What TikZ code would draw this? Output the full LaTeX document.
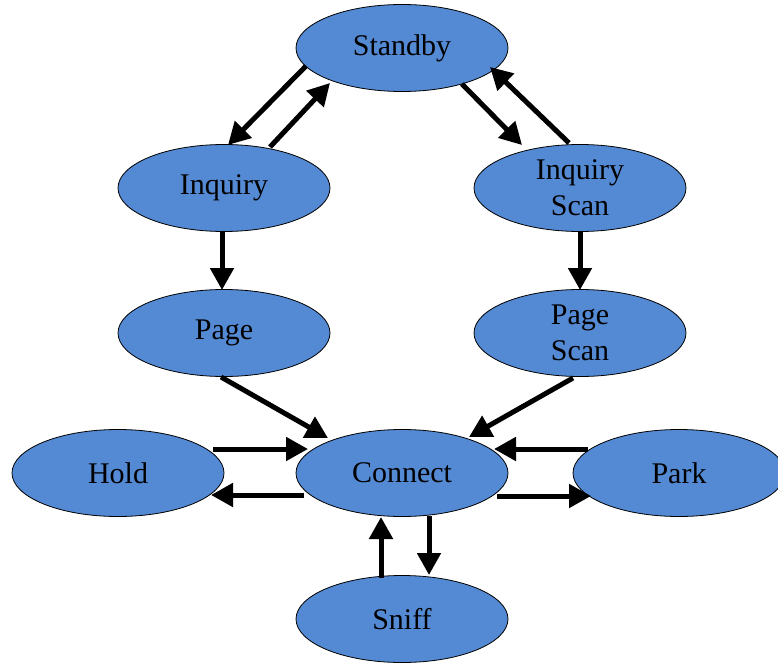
\documentclass[tikz,border=0pt]{standalone}
\usepackage{fontspec}
\setmainfont{Liberation Serif}
\usetikzlibrary{shapes.geometric,arrows.meta,calc}
\definecolor{stblue}{RGB}{84,138,212}
\tikzset{
  ell/.style={ellipse,draw=black,line width=0.8pt,fill=stblue,minimum width=212pt,minimum height=87pt,inner sep=0pt},
  lbl/.style={align=center,inner sep=0pt,font=\fontsize{30}{36}\selectfont},
  arr/.style={line width=5pt,-{Triangle[length=22pt,width=23pt]}}
}
\begin{document}
\begin{tikzpicture}[x=1pt,y=-1pt]
\useasboundingbox (0,0) rectangle (778,663);
\node[ell] (standby) at (402,48) {};
\node[ell] (inq) at (224,188) {};
\node[ell] (iscan) at (580,188) {};
\node[ell] (page) at (224,333) {};
\node[ell] (pscan) at (580,333) {};
\node[ell] (hold) at (118,473) {};
\node[ell] (conn) at (402,473) {};
\node[ell] (park) at (679,473) {};
\node[ell] (sniff) at (402,619) {};
\node[lbl] (standby-t) at (standby) {Standby};
\node[lbl] (inq-t) at (inq) {Inquiry};
\node[lbl] (iscan-t) at (iscan) {Inquiry\\Scan};
\node[lbl] (page-t) at (page) {Page};
\node[lbl] (pscan-t) at (pscan) {Page\\Scan};
\node[lbl] (hold-t) at (hold) {Hold};
\node[lbl] (conn-t) at (conn) {Connect};
\node[lbl] (park-t) at (park) {Park};
\node[lbl] (sniff-t) at (sniff) {Sniff};
% connector end points
\coordinate (s1) at ($(standby)+(-96,18)$);
\coordinate (i1) at ($(inq)+(4,-43)$);
\coordinate (i2) at ($(inq)+(46,-41)$);
\coordinate (s2) at ($(standby)+(-72,35)$);
\coordinate (s3) at ($(standby)+(60,36)$);
\coordinate (c3) at ($(iscan)+(-58,-43)$);
\coordinate (c4) at ($(iscan)+(-11,-45)$);
\coordinate (s4) at ($(standby)+(88,19)$);
\coordinate (i5) at ($(inq)+(-2,43)$);
\coordinate (p5) at ($(page)+(-2,-43)$);
\coordinate (c6) at ($(iscan)+(0,43)$);
\coordinate (q6) at ($(pscan)+(0,-43)$);
\coordinate (p7) at ($(page)+(-3,44)$);
\coordinate (n7) at ($(conn)+(-74,-35)$);
\coordinate (q8) at ($(pscan)+(-7,45)$);
\coordinate (n8) at ($(conn)+(67,-36)$);
\coordinate (h9) at ($(hold)+(95,-24)$);
\coordinate (n9) at ($(conn)+(-94,-24)$);
\coordinate (n10) at ($(conn)+(-98,22)$);
\coordinate (h10) at ($(hold)+(93,22)$);
\coordinate (k11) at ($(park)+(-91,-24)$);
\coordinate (n11) at ($(conn)+(92,-24)$);
\coordinate (n12) at ($(conn)+(95,23)$);
\coordinate (k12) at ($(park)+(-88,23)$);
\coordinate (f13) at ($(sniff)+(-21,-41)$);
\coordinate (n13) at ($(conn)+(-21,44)$);
\coordinate (n14) at ($(conn)+(27,43)$);
\coordinate (f14) at ($(sniff)+(27,-44)$);
\draw[arr] (s1) -- (i1);
\draw[arr] (i2) -- (s2);
\draw[arr] (s3) -- (c3);
\draw[arr] (c4) -- (s4);
\draw[arr] (i5) -- (p5);
\draw[arr] (c6) -- (q6);
\draw[arr] (p7) -- (n7);
\draw[arr] (q8) -- (n8);
\draw[arr] (h9) -- (n9);
\draw[arr] (n10) -- (h10);
\draw[arr] (k11) -- (n11);
\draw[arr] (n12) -- (k12);
\draw[arr] (f13) -- (n13);
\draw[arr] (n14) -- (f14);
\end{tikzpicture}
\end{document}
